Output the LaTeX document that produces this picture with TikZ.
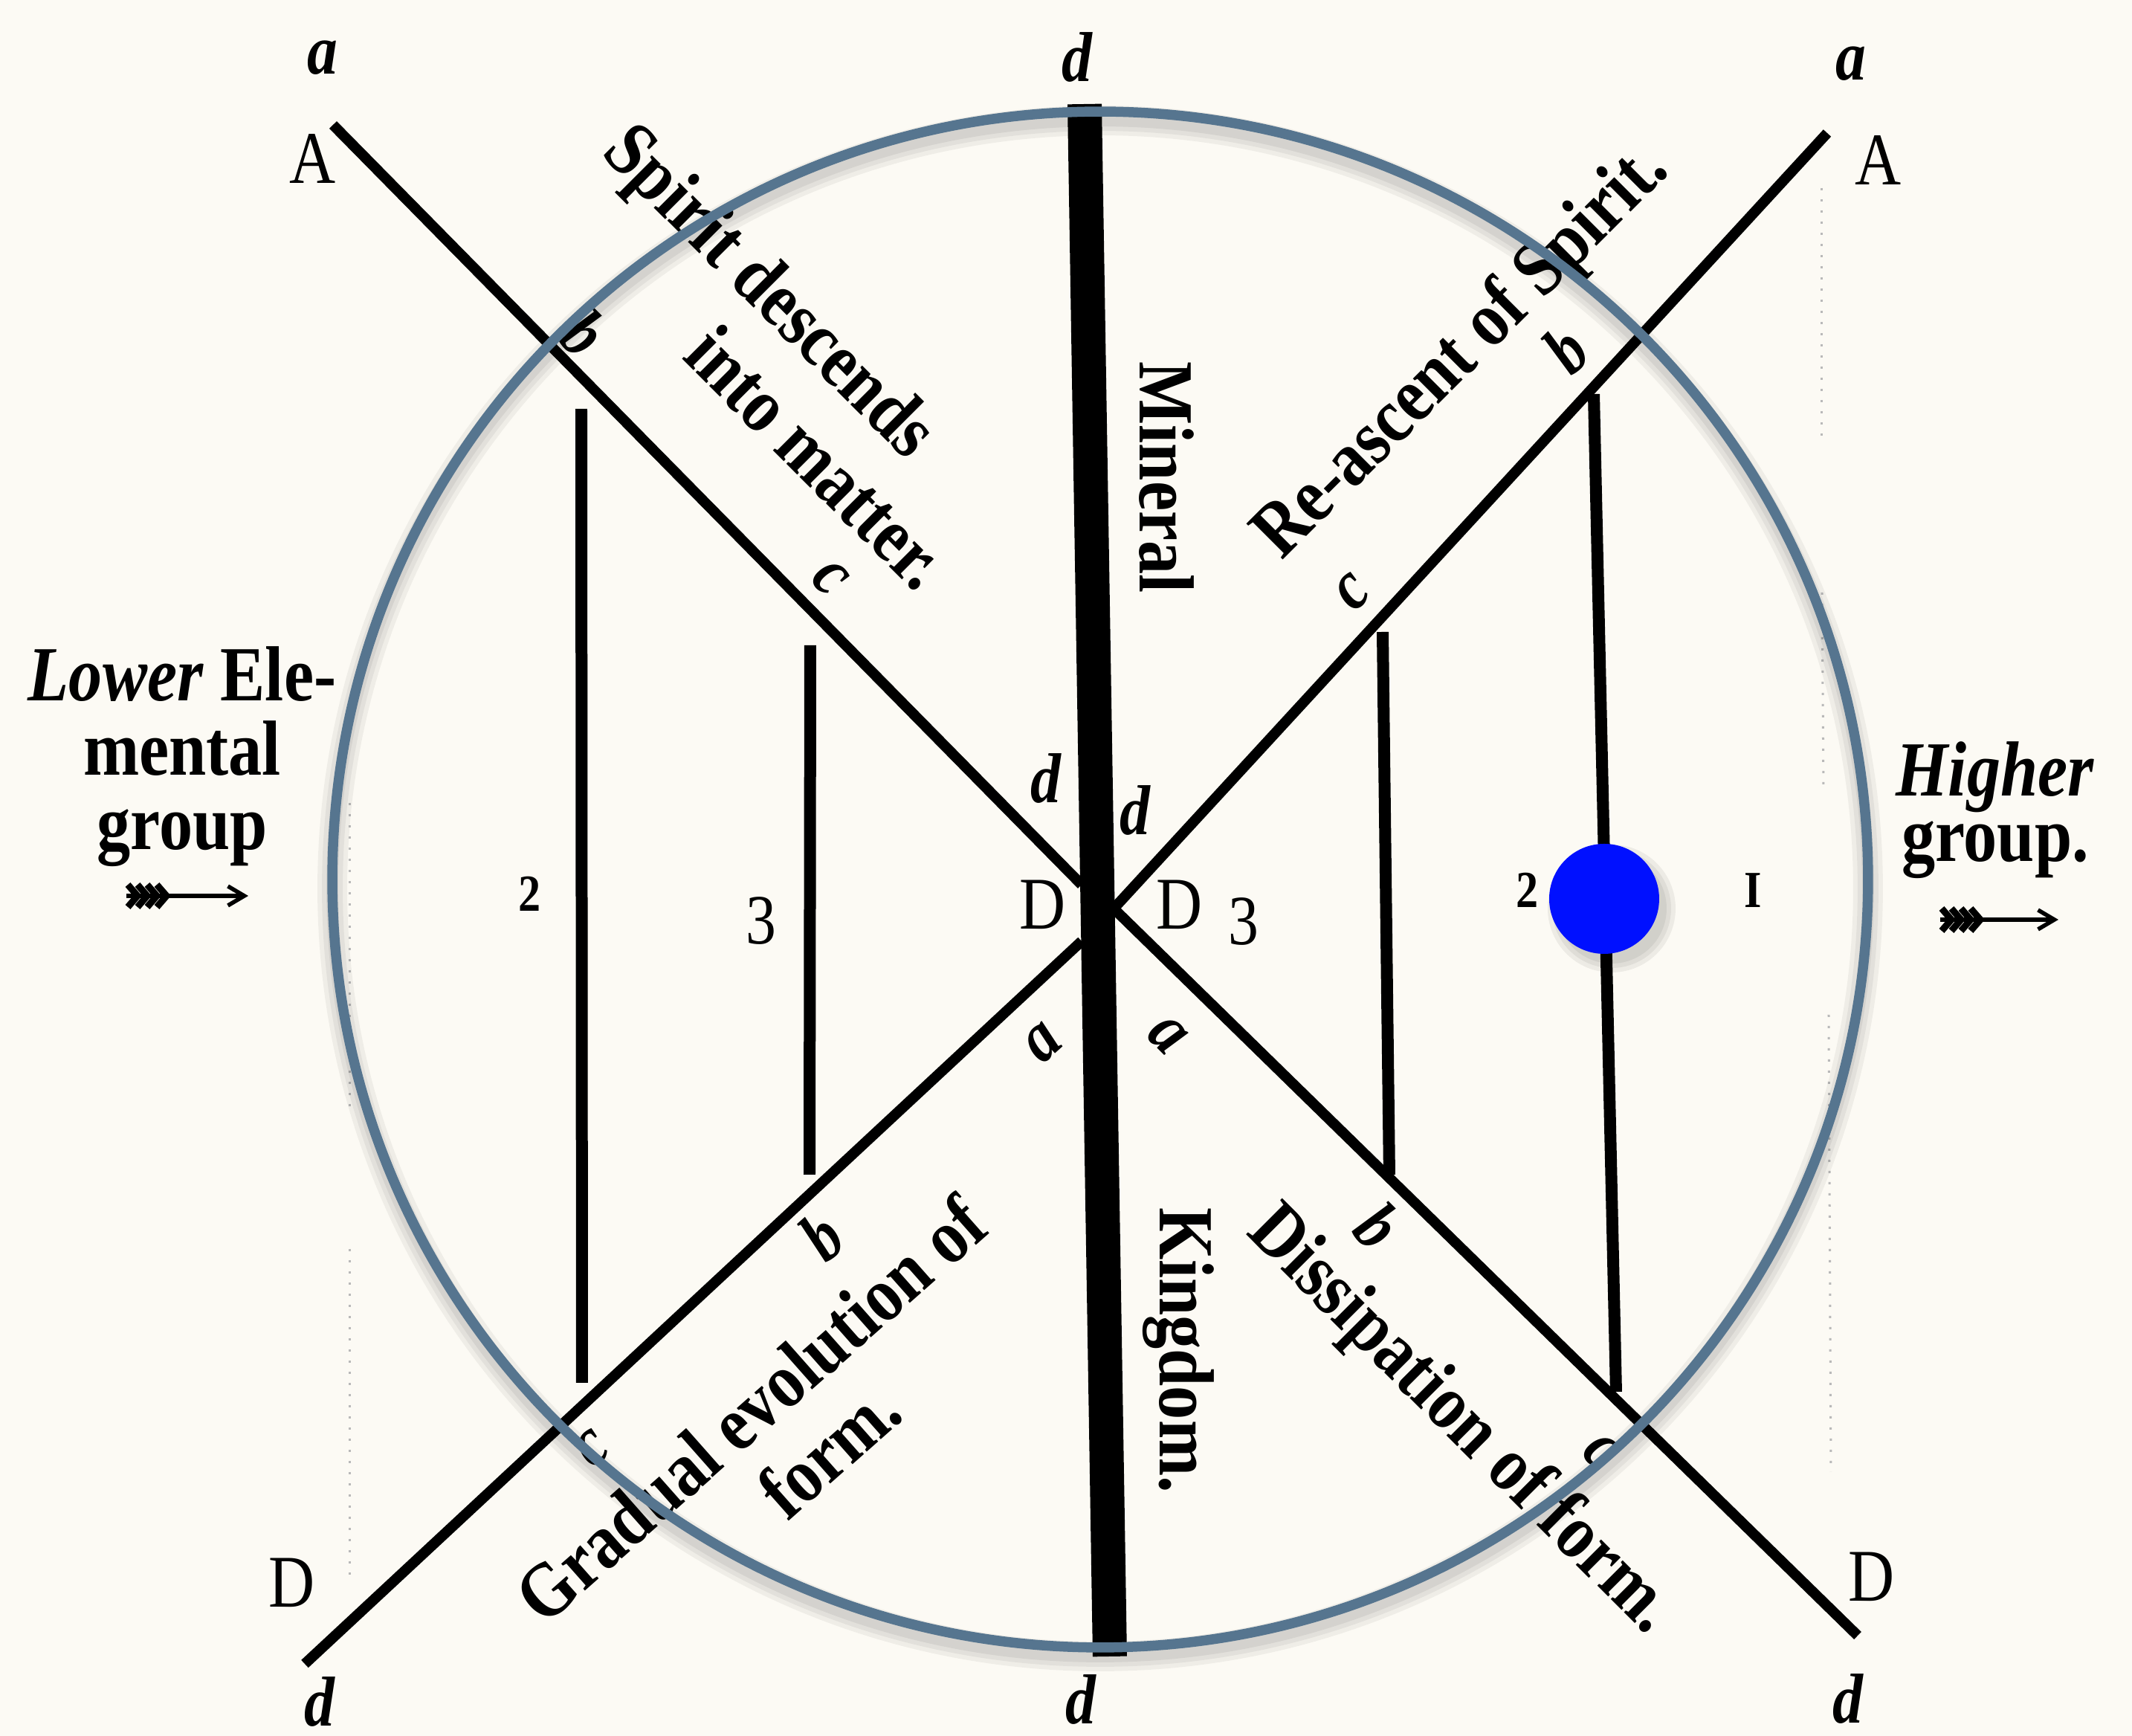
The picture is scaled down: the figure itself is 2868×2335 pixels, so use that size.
\documentclass[tikz,border=0pt]{standalone}
\usepackage{fontspec}
\setmainfont{Liberation Serif}[FakeStretch=0.86]
\usetikzlibrary{arrows.meta}
\definecolor{paper}{HTML}{FCFAF4}
\definecolor{ring}{HTML}{56758F}
\definecolor{dotblue}{HTML}{0010FF}
\tikzset{
  diag/.style={line width=1.4pt},
  rung/.style={line width=1.6pt},
  axisbar/.style={line width=4.6pt},
  words/.style={font=\fontsize{10.5}{11}\selectfont\bfseries, inner sep=0pt},
  sidel/.style={font=\fontsize{10.5}{10}\selectfont\bfseries, inner sep=0pt, align=center},
  sider/.style={font=\fontsize{10.5}{8.8}\selectfont\bfseries, inner sep=0pt, align=center},
  lett/.style={font=\fontsize{9.5}{10}\selectfont\bfseries\itshape, inner sep=0pt},
  capl/.style={font=\fontsize{10}{10}\selectfont, inner sep=0pt},
  numb/.style={font=\fontsize{7}{8}\selectfont\bfseries, inner sep=0pt},
  numc/.style={font=\fontsize{9.5}{10}\selectfont, inner sep=0pt},
  dots/.style={gray!55, line width=0.3pt, dash pattern=on 0.3pt off 1.2pt},
  flight/.style={line width=0.55pt, -{Straight Barb[length=2.2pt,width=2.6pt]}},
  feather/.style={line width=0.9pt},
}
\begin{document}
\begin{tikzpicture}[x=0.1pt,y=-0.1pt]
\fill[paper] (0,0) rectangle (2868,2335);
\useasboundingbox (0,0) rectangle (2868,2335);

% faint dotted guide lines
\coordinate (g1a) at (471,1080); \coordinate (g1b) at (471,1490);
\coordinate (g2a) at (471,1680); \coordinate (g2b) at (471,2125);
\coordinate (g3a) at (2451,253); \coordinate (g3b) at (2451,596);
\coordinate (g4a) at (2451,797); \coordinate (g4b) at (2453,1058);
\coordinate (g5a) at (2460,1365); \coordinate (g5b) at (2463,1980);
\draw[dots] (g1a) -- (g1b); \draw[dots] (g2a) -- (g2b);
\draw[dots] (g3a) -- (g3b); \draw[dots] (g4a) -- (g4b);
\draw[dots] (g5a) -- (g5b);

% diagonals
\coordinate (TLa) at (448,168);  \coordinate (TLb) at (1455,1190);
\coordinate (TRa) at (2458,179); \coordinate (TRb) at (1490,1231);
\coordinate (BLa) at (410,2238); \coordinate (BLb) at (1455,1266);
\coordinate (BRa) at (2499,2200);\coordinate (BRb) at (1495,1219);
\draw[diag] (TLa) -- (TLb);
\draw[diag] (TRa) -- (TRb);
\draw[diag] (BLa) -- (BLb);
\draw[diag] (BRa) -- (BRb);

% vertical rungs
\coordinate (L2t) at (782,550);  \coordinate (L2b) at (783,1860);
\coordinate (L3t) at (1090,868); \coordinate (L3b) at (1089,1580);
\coordinate (R3t) at (1860,850); \coordinate (R3b) at (1869,1580);
\coordinate (R2t) at (2144,530); \coordinate (R2b) at (2174,1872);
\draw[rung] (L2t) -- (L2b);
\draw[rung] (L3t) -- (L3b);
\draw[rung] (R3t) -- (R3b);
\draw[rung] (R2t) -- (R2b);

% central thick bar
\coordinate (MTop) at (1459,140); \coordinate (MBot) at (1493,2228);
\draw[axisbar] (MTop) -- (MBot);

% main texts
\node[words, rotate=-90] (mineral) at (1569,642) {Mineral};
\node[words, rotate=-90] (kingdom) at (1585,1816) {Kingdom.};
\node[words, rotate=-45] (spirit1) at (1032,396) {Spirit descends};
\node[words, rotate=-45] (spirit2) at (1100,615) {into matter.};
\node[words, rotate=45] (reascent) at (1968,475) {Re-ascent of Spirit.};
\node[words, rotate=41.5] (grad1) at (1009,1895) {Gradual evolution of};
\node[words, rotate=41.5] (grad2) at (1115,1950) {form.};
\node[words, rotate=-45] (dissip) at (1964,1912) {Dissipation of form.};
\node[sidel] (lower) at (245,1018) {\textit{Lower} Ele-\\mental\\group};
\node[sider] (higher) at (2684,1090) {\textit{Higher}\\group.};

% arrows under the side texts
\coordinate (lt) at (170,1205); \coordinate (lh) at (334,1205);
\coordinate (rt) at (2610,1237); \coordinate (rh) at (2769,1237);
\draw[flight] (lt) -- (lh);
\draw[flight] (rt) -- (rh);
\foreach \i in {0,1,2,3} {
  \draw[feather] ([shift={(2+13*\i,-15)}]lt) -- ([shift={(15+13*\i,0)}]lt) -- ([shift={(2+13*\i,15)}]lt);
  \draw[feather] ([shift={(2+13*\i,-15)}]rt) -- ([shift={(15+13*\i,0)}]rt) -- ([shift={(2+13*\i,15)}]rt);
}

% italic letters
\node[lett] (la1) at (434,78) {a};
\node[lett] (la2) at (2490,86) {a};
\node[lett] (ld1) at (1449,77) {d};
\node[lett, rotate=-45] (lb1) at (786,448) {b};
\node[lett, rotate=-45] (lc1) at (1117,778) {c};
\node[lett, rotate=45] (lb2) at (2106,470) {b};
\node[lett, rotate=45] (lc2) at (1820,796) {c};
\node[lett] (ld2) at (1407,1047) {d};
\node[lett] (ld3) at (1527,1090) {d};
\node[lett, rotate=42] (la3) at (1403,1403) {a};
\node[lett, rotate=-45] (la4) at (1570,1393) {a};
\node[lett, rotate=42] (lb3) at (1105,1663) {b};
\node[lett, rotate=-45] (lb4) at (1854,1649) {b};
\node[lett, rotate=42] (lc3) at (797,1948) {c};
\node[lett, rotate=-45] (lc4) at (2154,1953) {c};
\node[lett] (ld4) at (430,2289) {d};
\node[lett] (ld5) at (1454,2286) {d};
\node[lett] (ld6) at (2486,2285) {d};

% capitals
\node[capl] (A1) at (421,214) {A};
\node[capl] (A2) at (2527,216) {A};
\node[capl] (D1) at (1403,1217) {D};
\node[capl] (D2) at (1587,1217) {D};
\node[capl] (D3) at (393,2129) {D};
\node[capl] (D4) at (2518,2121) {D};

% numbers
\node[numb] (n2l) at (713,1202) {2};
\node[numc] (n3l) at (1024,1239) {3};
\node[numc] (n3r) at (1673,1240) {3};
\node[numb] (n2r) at (2055,1197) {2};
\node[numb] (n1r) at (2358,1198) {I};

% overlay circle with soft shadow
\begin{scope}[shift={(0,12)}]
  \foreach \w/\o in {4.0/0.05, 2.8/0.05, 1.6/0.06}
    \draw[black, opacity=\o, line width=\w pt] (1480,1183) circle[radius=103.3pt];
\end{scope}
\draw[ring, line width=1.35pt] (1480,1183) circle[radius=103.3pt];

% blue dot with soft shadow
\foreach \r in {8.6, 8.0, 7.4}
  \fill[black, opacity=0.06] (2168,1222) circle[radius=\r pt];
\node[circle, fill=dotblue, minimum size=14.8pt, inner sep=0pt] (dot) at (2158,1209) {};
\end{tikzpicture}
\end{document}
